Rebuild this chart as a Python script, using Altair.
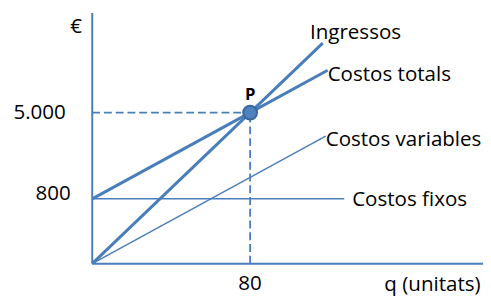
import altair as alt
import pandas as pd

# ---- schematic data (break-even chart) ----
q_max = 198
y_max = 166

ingressos_q = [0, 80, 116.8]
ingressos_y = [0, 100, 146]
totals_q = [0, 80, 119.3]
totals_y = [42.9, 100, 128.1]
variables_q = [0, 118.3]
variables_y = [0, 84.5]
fixos_q = [0, 127.7]
fixos_y = [42.9, 42.9]

p_q = [80]
p_y = [100]
p_name = ["P"]

line_labels = ["Ingressos", "Costos totals", "Costos variables", "Costos fixos"]
line_label_q = [110.3, 119.3, 118.3, 131.7]
line_label_y = [148.7, 120.8, 77.9, 38.3]

y_tick_labels = ["5.000", "800"]
y_tick_q = [-13.4, -10.9]
y_tick_y = [96.1, 42.2]

x_tick_labels = ["80"]
x_tick_q = [80]
x_tick_y = [-17.6]

x_title = ["q (unitats)"]
x_title_q = [196.8]
x_title_y = [-18.2]

y_title = ["€"]
y_title_q = [-8.2]
y_title_y = [152.6]

# ---- tables ----
def series_df(name, qs, ys):
    return pd.DataFrame({"serie": name, "ord": list(range(len(qs))), "q": qs, "y": ys})

thick_df = pd.concat([series_df("Ingressos", ingressos_q, ingressos_y),
                      series_df("Costos totals", totals_q, totals_y)])
thin_df = pd.concat([series_df("Costos variables", variables_q, variables_y),
                     series_df("Costos fixos", fixos_q, fixos_y)])

axes_df = pd.DataFrame({
    "axis": ["y", "y", "x", "x"],
    "ord": [0, 1, 0, 1],
    "q": [0, 0, 0, q_max],
    "y": [0, y_max, 0, 0],
})

dash_df = pd.DataFrame({
    "seg": ["h", "h", "v", "v"],
    "ord": [0, 1, 0, 1],
    "q": [0, p_q[0], p_q[0], p_q[0]],
    "y": [p_y[0], p_y[0], 0, p_y[0]],
})

p_df = pd.DataFrame({"q": p_q, "y": p_y, "name": p_name})
lab_df = pd.DataFrame({"t": line_labels, "q": line_label_q, "y": line_label_y})
ytick_df = pd.DataFrame({"t": y_tick_labels, "q": y_tick_q, "y": y_tick_y})
xtick_df = pd.DataFrame({"t": x_tick_labels, "q": x_tick_q, "y": x_tick_y})
xtitle_df = pd.DataFrame({"t": x_title, "q": x_title_q, "y": x_title_y})
ytitle_df = pd.DataFrame({"t": y_title, "q": y_title_q, "y": y_title_y})

BLUE = "#4A7EBB"
FONT = "Open Sans"
FS = 21

X = alt.X("q:Q", scale=alt.Scale(domain=[0, q_max], nice=False, zero=False), axis=None)
Y = alt.Y("y:Q", scale=alt.Scale(domain=[0, y_max], nice=False, zero=False), axis=None)

axes = alt.Chart(axes_df).mark_line(color=BLUE, strokeWidth=2, clip=False).encode(
    x=X, y=Y, detail="axis:N", order="ord:Q")

dashes = alt.Chart(dash_df).mark_line(color=BLUE, strokeWidth=1.8, strokeDash=[8, 4]).encode(
    x=X, y=Y, detail="seg:N", order="ord:Q")

thick = alt.Chart(thick_df).mark_line(color=BLUE, strokeWidth=3).encode(
    x=X, y=Y, detail="serie:N", order="ord:Q")

thin = alt.Chart(thin_df).mark_line(color=BLUE, strokeWidth=1.5).encode(
    x=X, y=Y, detail="serie:N", order="ord:Q")

point = alt.Chart(p_df).mark_point(filled=True, shape="circle", size=200, fill="#4F81BD",
                                   stroke="#3A679E", strokeWidth=2, opacity=1).encode(x=X, y=Y)

p_label = alt.Chart(p_df).mark_text(font=FONT, fontSize=17, fontWeight="bold", color="black",
                                    baseline="alphabetic", dy=-13, align="center").encode(x=X, y=Y, text="name:N")

def txt(df, align):
    return alt.Chart(df).mark_text(font=FONT, fontSize=FS, color="black", align=align,
                                   baseline="alphabetic").encode(x=X, y=Y, text="t:N")

chart = alt.layer(
    axes, dashes, thick, thin, point, p_label,
    txt(lab_df, "left"), txt(ytick_df, "right"), txt(xtick_df, "center"),
    txt(xtitle_df, "right"), txt(ytitle_df, "center"),
).properties(
    width=399, height=256,
    autosize=alt.AutoSizeParams(type="none"),
    padding={"left": 86, "top": 2, "right": 0, "bottom": 30},
).configure_view(stroke=None)

chart.save("out.html", embed_options={"renderer": "svg", "actions": False})
